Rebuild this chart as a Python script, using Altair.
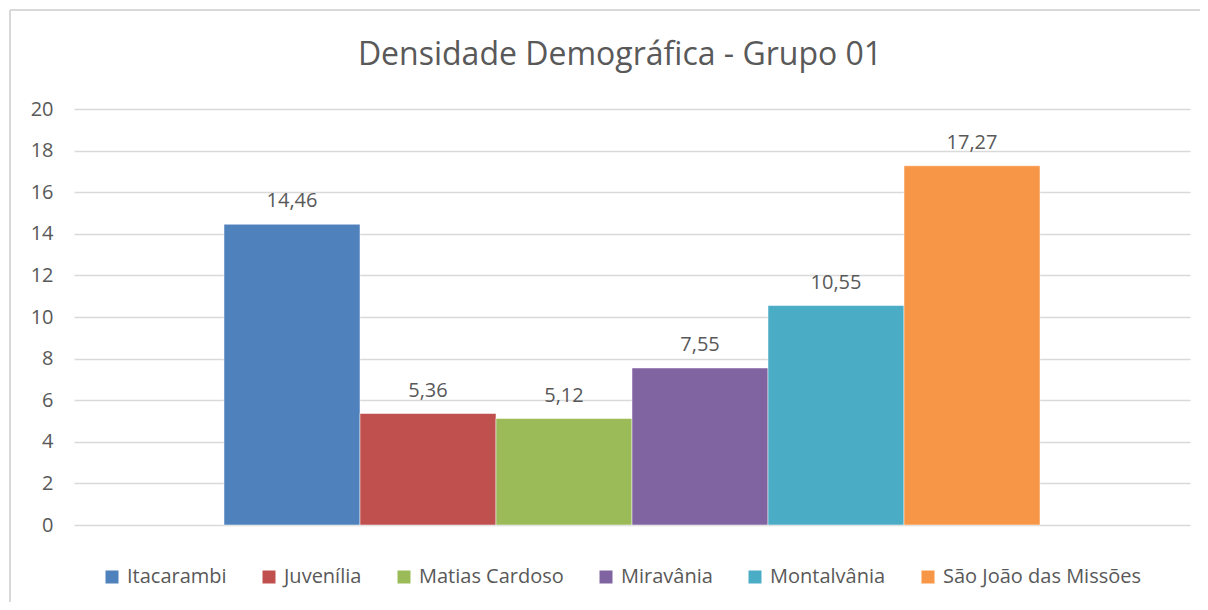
import altair as alt
import pandas as pd

municipios = ["Itacarambi", "Juvenília", "Matias Cardoso", "Miravânia", "Montalvânia", "São João das Missões"]
densidade = [14.46, 5.36, 5.12, 7.55, 10.55, 17.27]
cores = ["#4F81BD", "#C0504D", "#9BBB59", "#8064A2", "#4BACC6", "#F79646"]
y_ticks = [0, 2, 4, 6, 8, 10, 12, 14, 16, 18, 20]

df = pd.DataFrame({"grupo": ["Grupo 01"] * len(municipios),
                   "municipio": municipios, "densidade": densidade})
df["rotulo"] = [f"{v:.2f}".replace(".", ",") for v in densidade]

FONT = "Open Sans"
TXT = "#595959"
GRID = "#D9D9D9"
W, H = 1116, 416
FS = 20

base = alt.Chart(df).encode(
    x=alt.X("grupo:N", scale=alt.Scale(paddingInner=0, paddingOuter=0.1838), axis=None),
    xOffset=alt.XOffset("municipio:N", sort=municipios,
                        scale=alt.Scale(paddingInner=0, paddingOuter=0)),
)

bars = base.mark_bar(stroke="white", strokeWidth=0.5).encode(
    y=alt.Y("densidade:Q", scale=alt.Scale(domain=[0, 20], nice=False),
            axis=alt.Axis(values=y_ticks, title=None, grid=True, gridColor=GRID,
                          gridWidth=1.5, domain=False, ticks=False,
                          labelFont=FONT, labelFontSize=FS, labelColor=TXT,
                          labelPadding=21)),
    color=alt.Color("municipio:N", sort=municipios,
                    scale=alt.Scale(domain=municipios, range=cores),
                    legend=alt.Legend(title=None, orient="none", direction="horizontal",
                                      columns=6, legendX=28, legendY=458,
                                      symbolType="square", symbolSize=169,
                                      symbolStrokeWidth=0, labelFont=FONT,
                                      labelFontSize=FS, labelColor=TXT,
                                      labelOffset=5, columnPadding=32,
                                      labelLimit=400)),
)

labels = base.mark_text(baseline="alphabetic", dy=-17, font=FONT, fontSize=FS, color=TXT).encode(
    y=alt.Y("densidade:Q"),
    text="rotulo:N",
)

frame_top = alt.Chart(df).mark_rule(color=GRID, strokeWidth=2).encode(
    x=alt.value(-64), x2=alt.value(1140), y=alt.value(-99)
)
frame_left = alt.Chart(df).mark_rule(color=GRID, strokeWidth=2).encode(
    x=alt.value(-64), y=alt.value(-99), y2=alt.value(510)
)

chart = alt.layer(bars, labels, frame_top, frame_left).properties(
    width=W, height=H,
    title=alt.TitleParams("Densidade Demográfica - Grupo 01", font=FONT, fontSize=32,
                          fontWeight="normal", color=TXT, anchor="middle",
                          baseline="alphabetic", dx=-12, offset=-88),
    autosize=alt.AutoSizeParams(type="none"),
    padding={"left": 66, "top": 101, "right": 10, "bottom": 77},
).configure_view(stroke=None)

chart.save("out.html", embed_options={"renderer": "svg", "actions": False})
